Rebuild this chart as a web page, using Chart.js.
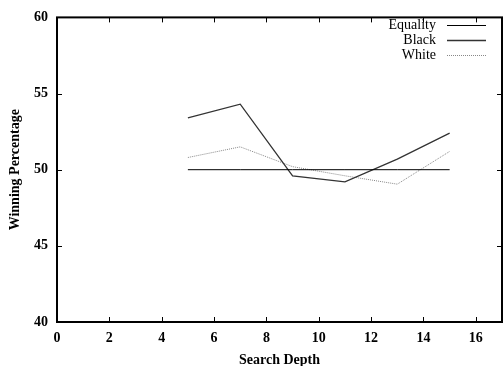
<!DOCTYPE html>
<html>
<head>
<meta charset="utf-8">
<script src="https://cdn.jsdelivr.net/npm/chart.js@4"></script>
<style>
  html, body { margin: 0; padding: 0; background: #fff; }
  .wrap { width: 503px; height: 366px; }
</style>
</head>
<body>
<div class="wrap"><canvas id="myChart" width="503" height="366"></canvas></div>
<script>
const depths = [5, 7, 9, 11, 13, 15];
const equality = [50, 50, 50, 50, 50, 50];
const black = [53.4, 54.3, 49.6, 49.2, 50.7, 52.4];
const white = [50.8, 51.5, 50.2, 49.6, 49.05, 51.2];
const xTicks = [0, 2, 4, 6, 8, 10, 12, 14, 16];
const yTicks = [40, 45, 50, 55, 60];

const serif = '"Liberation Serif", "Times New Roman", serif';

const toPoints = (ys) => depths.map((x, i) => ({ x: x, y: ys[i] }));

// frame, inward ticks on all four sides, and the legend in the top right
const framePlugin = {
  id: 'frame',
  afterDraw(chart) {
    const { ctx, chartArea: a, scales } = chart;
    ctx.save();
    ctx.strokeStyle = '#000';
    ctx.lineWidth = 1;
    xTicks.forEach((v) => {
      const px = Math.round(scales.x.getPixelForValue(v)) + 0.5;
      ctx.beginPath();
      ctx.moveTo(px, a.bottom); ctx.lineTo(px, a.bottom - 5);
      ctx.moveTo(px, a.top); ctx.lineTo(px, a.top + 5);
      ctx.stroke();
    });
    yTicks.forEach((v) => {
      const py = Math.round(scales.y.getPixelForValue(v)) + 0.5;
      ctx.beginPath();
      ctx.moveTo(a.left, py); ctx.lineTo(a.left + 5, py);
      ctx.moveTo(a.right, py); ctx.lineTo(a.right - 5, py);
      ctx.stroke();
    });
    ctx.lineWidth = 2;
    ctx.strokeRect(a.left, a.top, a.right - a.left, a.bottom - a.top);

    // legend
    ctx.font = '14px ' + serif;
    ctx.textAlign = 'right';
    ctx.textBaseline = 'middle';
    ctx.fillStyle = '#000';
    chart.data.datasets.forEach((ds, i) => {
      const y = 25 + i * 15;
      ctx.fillText(ds.label, 436, y);
      ctx.strokeStyle = ds.borderColor;
      ctx.lineWidth = ds.borderWidth;
      ctx.setLineDash(ds.borderDash || []);
      ctx.beginPath();
      ctx.moveTo(447, y + 0.5);
      ctx.lineTo(486, y + 0.5);
      ctx.stroke();
    });
    ctx.restore();
  },
};

new Chart(document.getElementById('myChart'), {
  type: 'line',
  data: {
    datasets: [
      {
        label: 'Equality',
        data: toPoints(equality),
        borderColor: '#000',
        borderWidth: 1,
      },
      {
        label: 'Black',
        data: toPoints(black),
        borderColor: '#333',
        borderWidth: 1.3,
      },
      {
        label: 'White',
        data: toPoints(white),
        borderColor: '#888',
        borderWidth: 1,
        borderDash: [1, 1],
      },
    ],
  },
  options: {
    responsive: false,
    animation: false,
    elements: { point: { radius: 0 }, line: { tension: 0 } },
    layout: { padding: { top: 13, right: 1, left: 0, bottom: 0 } },
    plugins: { legend: { display: false }, tooltip: { enabled: false } },
    scales: {
      x: {
        type: 'linear',
        min: 0,
        max: 17,
        afterBuildTicks: (s) => { s.ticks = xTicks.map((v) => ({ value: v })); },
        afterFit: (s) => { s.height = 44; },
        grid: { drawOnChartArea: false, drawTicks: false },
        border: { display: false },
        ticks: {
          padding: 8,
          color: '#000',
          font: { family: serif, size: 14, weight: 'bold' },
        },
        title: {
          display: true,
          text: 'Search Depth',
          color: '#000',
          padding: { top: 0, bottom: -3 },
          font: { family: serif, size: 14, weight: 'bold' },
        },
      },
      y: {
        min: 40,
        max: 60,
        afterBuildTicks: (s) => { s.ticks = yTicks.map((v) => ({ value: v })); },
        afterFit: (s) => { s.width = 57; },
        grid: { drawOnChartArea: false, drawTicks: false },
        border: { display: false },
        ticks: {
          padding: 9,
          color: '#000',
          font: { family: serif, size: 14, weight: 'bold' },
        },
        title: {
          display: true,
          text: 'Winning Percentage',
          color: '#000',
          padding: { top: 7, bottom: 0 },
          font: { family: serif, size: 14, weight: 'bold' },
        },
      },
    },
  },
  plugins: [framePlugin],
});
</script>
</body>
</html>
